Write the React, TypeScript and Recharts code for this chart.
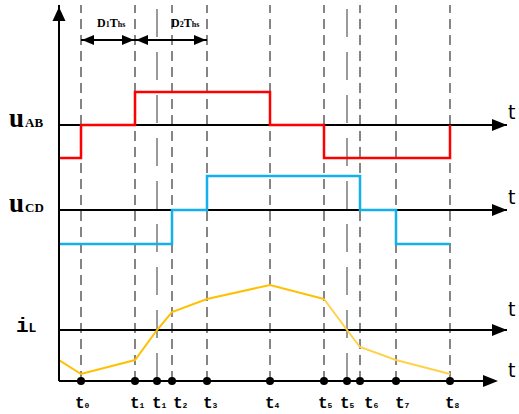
import React from 'react';
import { ComposedChart, Line, XAxis, YAxis, ReferenceLine, ReferenceDot } from 'recharts';

// time instants (t0 ... t8, including the zero-crossing instants t1' and t5')
const tTimes = [22, 76, 98, 113, 148, 211, 265, 288, 301, 337, 391];
const tSubs = ['0', '1', '1', '2', '3', '4', '5', '5', '6', '7', '8'];
const tLabelShift = [-6, -5, -5, 1, -4, -5, -6, -7, 4, -1, -5];
const longDashIdx = [2, 7];

// uAB square wave (levels -1 / 0 / +1)
const abTimes = [0, 22, 76, 211, 265, 391];
const abLevels = [-1, 0, 1, 0, -1, 0];

// uCD square wave
const cdTimes = [0, 113, 148, 301, 337, 391];
const cdLevels = [-1, 0, 1, 0, -1, -1];

// inductor current iL
const ilTimes = [0, 22, 76, 98, 113, 148, 211, 265, 288, 301, 337, 391];
const ilValues = [-30, -44, -30, 0, 18, 31, 45, 31, 0, -17, -30, -44];

const rowTicks = [256, 171, 51];
const rowMain = ['u', 'u', 'i'];
const rowSub = ['AB', 'CD', 'L'];

// layout
const W = 519;
const H = 414;
const X_MAX = 448;
const Y_MAX = 376;
const AB_BASE = 256;
const CD_BASE = 171;
const IL_BASE = 51;
const AB_AMP = 33;
const CD_AMP = 34;
const ARROW_Y = 341;

const abData = abTimes.map((x, i) => ({ x, y: AB_BASE + abLevels[i] * AB_AMP }));
const cdData = cdTimes.map((x, i) => ({ x, y: CD_BASE + cdLevels[i] * CD_AMP }));
const ilData = ilTimes.map((x, i) => ({ x, y: IL_BASE + ilValues[i] }));
const il1 = ilData.slice(0, 8);
const il2 = ilData.slice(7);

const TimeTick = (props: any) => {
  const idx = tTimes.indexOf(props.payload.value);
  return (
    <text x={props.x + tLabelShift[idx]} y={408} fontFamily="Liberation Mono" fontWeight="bold" fontSize={16} fill="#000">
      t<tspan fontSize={8}>{tSubs[idx]}</tspan>
    </text>
  );
};

const RowTick = (props: any) => {
  const idx = rowTicks.indexOf(props.payload.value);
  if (idx === 2) {
    return (
      <text x={16} y={props.y + 2} fontFamily="Liberation Mono" fontWeight="bold" fill="#000">
        <tspan fontSize={21}>{rowMain[idx]}</tspan>
        <tspan fontSize={13}>{rowSub[idx]}</tspan>
      </text>
    );
  }
  return (
    <text x={9} y={props.y + 2} fontFamily="Liberation Serif" fontWeight="bold" fill="#000">
      <tspan fontSize={27}>{rowMain[idx]}</tspan>
      <tspan fontSize={13} dx={1}>{rowSub[idx]}</tspan>
    </text>
  );
};

const rightArrow = (p: any) => (
  <polygon points={`${p.cx},${p.cy} ${p.cx - 15},${p.cy - 6} ${p.cx - 15},${p.cy + 6}`} fill="#000" />
);
const upArrow = (p: any) => (
  <polygon points={`${p.cx},${p.cy} ${p.cx - 6.5},${p.cy + 14} ${p.cx + 6.5},${p.cy + 14}`} fill="#000" />
);
const dimRight = (p: any) => (
  <polygon points={`${p.cx - 1},${p.cy} ${p.cx - 13},${p.cy - 5} ${p.cx - 13},${p.cy + 5}`} fill="#000" />
);
const dimLeft = (p: any) => (
  <polygon points={`${p.cx + 1},${p.cy} ${p.cx + 13},${p.cy - 5} ${p.cx + 13},${p.cy + 5}`} fill="#000" />
);
const tLabel = (dx: number, dy: number) => (p: any) => (
  <text x={p.cx + dx} y={p.cy + dy} fontFamily="DejaVu Sans" fontSize={19} fill="#000">t</text>
);
const dimLabel = (n: string, dx: number) => (p: any) => (
  <text x={p.cx + dx} y={p.cy - 13} fontFamily="Liberation Serif" fontWeight="bold" fontSize={12} fill="#000">
    D<tspan fontSize={8}>{n}</tspan>T<tspan fontSize={8}>hs</tspan>
  </text>
);

export default function App() {
  return (
    <div style={{ position: 'absolute', left: 0, top: 0, background: '#fff' }}>
      <ComposedChart width={W} height={H} margin={{ top: 5, right: 12, bottom: 0, left: 0 }}>
        <XAxis
          type="number"
          dataKey="x"
          domain={[0, X_MAX]}
          ticks={tTimes}
          interval={0}
          tick={TimeTick}
          axisLine={false}
          tickLine={false}
          height={33}
          allowDataOverflow
        />
        <YAxis
          type="number"
          dataKey="y"
          domain={[0, Y_MAX]}
          ticks={rowTicks}
          interval={0}
          tick={RowTick}
          axisLine={{ stroke: '#000', strokeWidth: 2 }}
          tickLine={false}
          width={59}
          allowDataOverflow
        />
        {tTimes.map((t, i) => (
          <ReferenceLine
            key={'v' + i}
            x={t}
            stroke={longDashIdx.includes(i) ? '#7a7a7a' : '#858585'}
            strokeWidth={longDashIdx.includes(i) ? 1.5 : 2}
            strokeDasharray={longDashIdx.includes(i) ? '28 15' : '10 6'}
          />
        ))}
        <ReferenceLine y={AB_BASE} stroke="#000" strokeWidth={2} />
        <ReferenceLine y={CD_BASE} stroke="#000" strokeWidth={2} />
        <ReferenceLine y={IL_BASE} stroke="#000" strokeWidth={2} />
        <ReferenceLine segment={[{ x: 0, y: 0 }, { x: 430, y: 0 }]} stroke="#000" strokeWidth={2} ifOverflow="visible" />
        <ReferenceLine segment={[{ x: tTimes[0], y: ARROW_Y }, { x: tTimes[1], y: ARROW_Y }]} stroke="#000" strokeWidth={2} />
        <ReferenceLine segment={[{ x: tTimes[1], y: ARROW_Y }, { x: tTimes[4], y: ARROW_Y }]} stroke="#000" strokeWidth={2} />

        <Line data={abData} dataKey="y" type="stepAfter" stroke="#ff0000" strokeWidth={2.5} dot={false} activeDot={false} isAnimationActive={false} />
        <Line data={cdData} dataKey="y" type="stepAfter" stroke="#14b0ec" strokeWidth={2.5} dot={false} activeDot={false} isAnimationActive={false} />
        <Line data={il1} dataKey="y" type="linear" stroke="#ffc000" strokeWidth={2} dot={false} activeDot={false} isAnimationActive={false} />
        <Line data={il2} dataKey="y" type="linear" stroke="#ffd24a" strokeWidth={2} dot={false} activeDot={false} isAnimationActive={false} />

        {tTimes.map((t, i) => (
          <ReferenceDot key={'d' + i} x={t} y={0} r={4} fill="#000" stroke="none" ifOverflow="visible" />
        ))}
        <ReferenceDot x={X_MAX} y={AB_BASE} ifOverflow="visible" shape={rightArrow} />
        <ReferenceDot x={X_MAX} y={CD_BASE} ifOverflow="visible" shape={rightArrow} />
        <ReferenceDot x={X_MAX} y={IL_BASE} ifOverflow="visible" shape={rightArrow} />
        <ReferenceDot x={439} y={0} ifOverflow="visible" shape={rightArrow} />
        <ReferenceDot x={0} y={374} ifOverflow="visible" shape={upArrow} />
        <ReferenceDot x={tTimes[0]} y={ARROW_Y} ifOverflow="visible" shape={dimLeft} />
        <ReferenceDot x={tTimes[1]} y={ARROW_Y} ifOverflow="visible" shape={dimRight} />
        <ReferenceDot x={tTimes[1]} y={ARROW_Y} ifOverflow="visible" shape={dimLeft} />
        <ReferenceDot x={tTimes[4]} y={ARROW_Y} ifOverflow="visible" shape={dimRight} />
        <ReferenceDot x={tTimes[0]} y={ARROW_Y} ifOverflow="visible" shape={dimLabel('1', 16)} />
        <ReferenceDot x={tTimes[1]} y={ARROW_Y} ifOverflow="visible" shape={dimLabel('2', 36)} />
        <ReferenceDot x={X_MAX} y={AB_BASE} ifOverflow="visible" shape={tLabel(1, -6)} />
        <ReferenceDot x={X_MAX} y={CD_BASE} ifOverflow="visible" shape={tLabel(1, -6)} />
        <ReferenceDot x={X_MAX} y={IL_BASE} ifOverflow="visible" shape={tLabel(1, -14)} />
        <ReferenceDot x={439} y={0} ifOverflow="visible" shape={tLabel(10, -4)} />
      </ComposedChart>
    </div>
  );
}
